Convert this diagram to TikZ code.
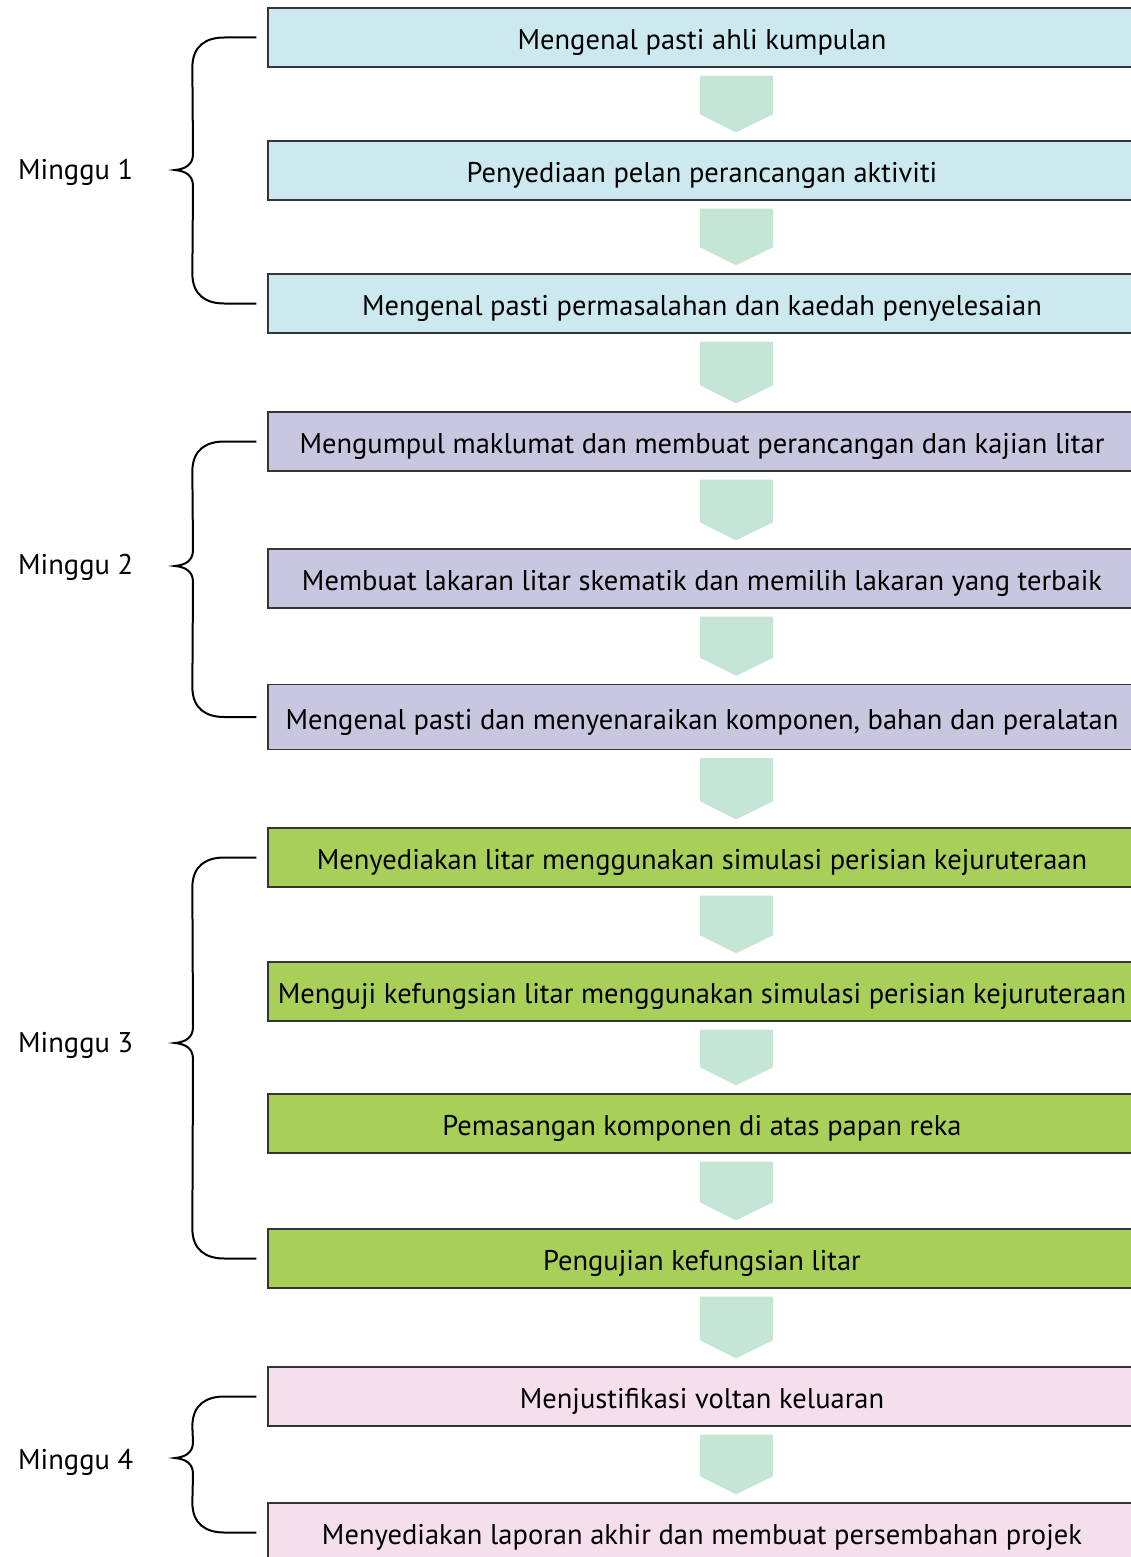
\documentclass[tikz,border=0pt]{standalone}
\usepackage{fontspec}
\setmainfont{PT Sans}
\usetikzlibrary{calc}

\definecolor{wkcyan}{HTML}{CBE9EE}
\definecolor{wklilac}{HTML}{C9C6E0}
\definecolor{wkgreen}{HTML}{A8D059}
\definecolor{wkpink}{HTML}{F5DFEC}
\definecolor{chevfill}{HTML}{C6E6D5}
\definecolor{boxline}{HTML}{353535}

\tikzset{
    stage/.style={draw=boxline, line width=1.3pt, minimum width=868pt,
                  minimum height=59pt, inner sep=0pt,
                  text height=24pt, text depth=0pt,
                  font=\fontsize{28.5}{34}\selectfont},
    wkone/.style={stage, fill=wkcyan},
    wktwo/.style={stage, fill=wklilac},
    wkthree/.style={stage, fill=wkgreen},
    wkfour/.style={stage, fill=wkpink},
    chevron/.style={fill=chevfill, draw=none},
    bracket/.style={line width=2pt},
    week/.style={anchor=west, inner sep=0pt, font=\fontsize{28.5}{34}\selectfont},
}

% curly bracket from the first to the last box of a week, cusp at #3
\newcommand{\weekbrace}[3]{%
    \draw[bracket] let \p1=([xshift=-11pt]#1.west),
                       \p2=([xshift=-11pt]#2.west), \p3=(#3) in
        (\p1) -- (\x1-32pt,\y1)
        .. controls (\x1-50pt,\y1) and (\x1-64pt,\y1-8pt) .. (\x1-64pt,\y1-30pt)
        -- (\x3+18pt,\y3+16pt)
        .. controls (\x3+18pt,\y3+5pt) and (\x3+10pt,\y3+1pt) .. (\p3)
        .. controls (\x3+10pt,\y3-1pt) and (\x3+18pt,\y3-5pt) .. (\x3+18pt,\y3-16pt)
        -- (\x2-64pt,\y2+30pt)
        .. controls (\x2-64pt,\y2+8pt) and (\x2-50pt,\y2) .. (\x2-32pt,\y2)
        -- (\p2);}

\begin{document}
\begin{tikzpicture}[x=1pt, y=-1pt]

    \useasboundingbox (0,0) rectangle (1130,1557);

    % week 1
    \node[wkone] (s1) at (702,37.5) {Mengenal pasti ahli kumpulan};
    \node[wkone] (s2) at (702,170.5) {Penyediaan pelan perancangan aktiviti};
    \node[wkone] (s3) at (702,303.5) {Mengenal pasti permasalahan dan kaedah penyelesaian};

    % week 2
    \node[wktwo] (s4) at (702,441.5) {Mengumpul maklumat dan membuat perancangan dan kajian litar};
    \node[wktwo] (s5) at (702,578.5) {Membuat lakaran litar skematik dan memilih lakaran yang terbaik};
    \node[wktwo, minimum height=65pt] (s6) at (702,717) {Mengenal pasti dan menyenaraikan komponen, bahan dan peralatan};

    % week 3
    \node[wkthree] (s7) at (702,857.5) {Menyediakan litar menggunakan simulasi perisian kejuruteraan};
    \node[wkthree] (s8) at (702,991.5) {Menguji kefungsian litar menggunakan simulasi perisian kejuruteraan};
    \node[wkthree] (s9) at (702,1123.5) {Pemasangan komponen di atas papan reka};
    \node[wkthree] (s10) at (702,1258.5) {Pengujian kefungsian litar};

    % week 4
    \node[wkfour] (s11) at (702,1396.5) {Menjustifikasi voltan keluaran};
    \node[wkfour] (s12) at (702,1532.5) {Menyediakan laporan akhir dan membuat persembahan projek};

    % chevrons between the steps
    \foreach \a/\b in {s1/s2,s2/s3,s3/s4,s4/s5,s5/s6,s6/s7,s7/s8,s8/s9,s9/s10,s10/s11,s11/s12}
        \fill[chevron] ($(\a.south)+(-2,8)$) -- ($(\a.south)+(71,8)$)
            -- ($(\b.north)+(71,-26)$) -- ($(\b.north)+(34,-8)$)
            -- ($(\b.north)+(-2,-26)$) -- cycle;

    % week labels and brackets
    \node[week] (m1) at (18,172) {Minggu 1};
    \node[week] (m2) at (18,567) {Minggu 2};
    \node[week] (m3) at (18,1045) {Minggu 3};
    \node[week] (m4) at (18,1462) {Minggu 4};
    \coordinate (k1) at (175,170);
    \coordinate (k2) at (175,566);
    \coordinate (k3) at (175,1043);
    \coordinate (k4) at (175,1458);

    \weekbrace{s1}{s3}{k1}
    \weekbrace{s4}{s6}{k2}
    \weekbrace{s7}{s10}{k3}
    \weekbrace{s11}{s12}{k4}

\end{tikzpicture}
\end{document}
